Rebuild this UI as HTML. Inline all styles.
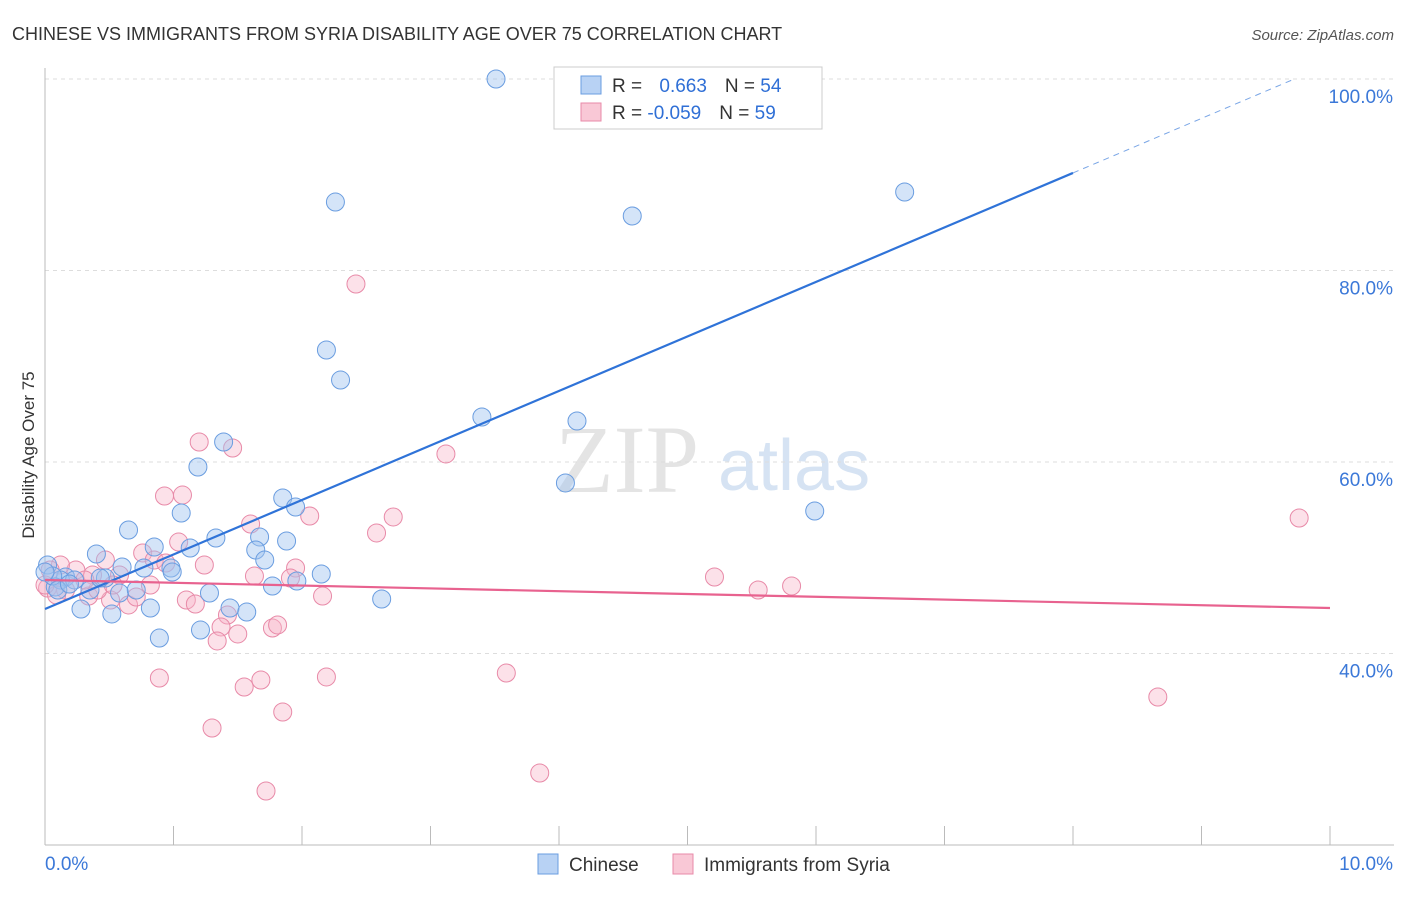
<!DOCTYPE html>
<html><head><meta charset="utf-8"><style>
body{margin:0;background:#fff;font-family:"Liberation Sans",sans-serif}
</style></head><body>
<svg id="chart" width="1406" height="892" xmlns="http://www.w3.org/2000/svg" font-family="Liberation Sans, sans-serif">
<text x="12" y="40" font-size="18" fill="#333">CHINESE VS IMMIGRANTS FROM SYRIA DISABILITY AGE OVER 75 CORRELATION CHART</text>
<text x="1394" y="40" font-size="15" fill="#555" font-style="italic" text-anchor="end">Source: ZipAtlas.com</text>
<text x="555" y="492" font-size="96" fill="#e4e4e4" font-family="Liberation Serif, serif">ZIP</text>
<text x="718" y="490" font-size="72" fill="#d6e3f3">atlas</text>
<g id="grid"></g>
<g id="axes"></g>
<g id="pts"></g>
<g id="lines"></g>
<text transform="translate(34,455) rotate(-90)" font-size="17" fill="#333" text-anchor="middle">Disability Age Over 75</text>
<g>
<rect x="554" y="67" width="268" height="62" fill="#fff" stroke="#ccc"/>
<rect x="581" y="76" width="20" height="18" fill="#b8d2f4" stroke="#6a9de0"/>
<rect x="581" y="103" width="20" height="18" fill="#f9c8d6" stroke="#e88aa8"/>
<text x="612" y="92" font-size="19" fill="#333">R = <tspan fill="#2f6fd6" dx="12">0.663</tspan><tspan fill="#333" dx="18">N = </tspan><tspan fill="#2f6fd6">54</tspan></text>
<text x="612" y="119" font-size="19" fill="#333">R = <tspan fill="#2f6fd6">-0.059</tspan><tspan fill="#333" dx="18">N = </tspan><tspan fill="#2f6fd6">59</tspan></text>
</g>
<g>
<rect x="538" y="854" width="20" height="20" fill="#b8d2f4" stroke="#6a9de0"/>
<text x="569" y="871" font-size="19" fill="#333">Chinese</text>
<rect x="673" y="854" width="20" height="20" fill="#f9c8d6" stroke="#e88aa8"/>
<text x="704" y="871" font-size="19" fill="#333">Immigrants from Syria</text>
</g>
</svg>
<script>
const blueX=[3.51,2.26,4.57,6.69,2.19,2.30,3.40,4.14,1.39,1.19,4.05,5.99,1.85,1.95,1.06,0.65,1.33,1.67,1.88,0.85,1.13,0.40,1.64,1.71,0.98,0.60,0.77,0.47,0.16,0.12,0.23,0.08,0.35,0.58,0.71,1.28,1.96,2.15,1.77,0.82,0.28,0.52,1.44,1.57,0.89,1.21,2.62,0.99,0.02,0.06,0.43,0.10,0.19,0.0];
const blueY=[100,87.15,85.69,88.2,71.7,68.56,64.7,64.28,62.09,59.48,57.81,54.88,56.24,55.3,54.67,52.9,52.06,52.17,51.75,51.12,51.02,50.39,50.81,49.76,48.93,49.03,48.93,47.88,47.99,47.68,47.68,46.95,46.63,46.32,46.63,46.32,47.57,48.3,47.05,44.75,44.65,44.13,44.75,44.33,41.62,42.45,45.69,48.51,49.24,48.09,47.88,46.63,47.26,48.51];
const pinkX=[2.42,1.20,1.46,3.12,0.93,1.07,2.06,2.71,1.60,2.58,0.76,1.04,0.47,0.85,1.24,0.24,0.12,0.04,0.02,0.37,0.58,1.63,1.95,1.91,0.94,5.21,5.55,5.81,9.76,1.10,1.17,0.51,0.65,0.34,2.16,1.42,1.37,1.50,1.77,1.81,1.34,0.89,2.19,3.59,1.55,1.68,1.85,1.30,3.85,1.72,8.66,0.82,0.41,0.16,0.53,0.71,0.31,0.09,0.0];
const pinkY=[78.59,62.09,61.46,60.84,56.45,56.55,54.36,54.26,53.52,52.59,50.5,51.64,49.76,49.76,49.24,48.72,49.24,48.72,46.84,48.2,48.2,48.09,48.93,47.88,49.45,47.99,46.63,47.05,54.15,45.59,45.17,45.59,45.07,46.0,46.0,44.02,42.77,42.04,42.66,42.98,41.31,37.44,37.55,37.96,36.5,37.23,33.89,32.22,27.52,25.64,35.46,47.15,46.63,46.63,47.15,45.9,47.68,46.11,47.15];
const yTicks=[100,80,60,40];
const blueTrend=[44.65,90.19];
const pinkTrend=[47.68,44.75];
const NS="http://www.w3.org/2000/svg";
const sx=v=>45+v*128.5;
const sy=v=>79+(100-v)*9.575;
function mk(t,a,p){const e=document.createElementNS(NS,t);for(const k in a)e.setAttribute(k,a[k]);p.appendChild(e);return e;}
const grid=document.getElementById('grid'),axes=document.getElementById('axes'),pts=document.getElementById('pts'),lines=document.getElementById('lines');
yTicks.forEach(t=>{
 const l=mk('line',{x1:45,x2:1394,y1:sy(t),y2:sy(t),stroke:'#ddd','stroke-dasharray':'4,4'},grid);
 
 
 const tx=mk('text',{x:1393,y:sy(t)+24,'font-size':19,fill:'#3b78d8','text-anchor':'end'},grid);
 tx.textContent=t.toFixed(1)+'%';
 
 
});
const xa=mk('line',{x1:45,x2:1394,y1:845,y2:845,stroke:'#bbb'},axes);


const ya=mk('line',{x1:45,x2:45,y1:68,y2:845,stroke:'#bbb'},axes);


for(let i=1;i<=10;i++){const t=mk('line',{x1:45+i*128.5,x2:45+i*128.5,y1:826,y2:845,stroke:'#bbb'},axes);}
const x0=mk('text',{x:45,y:870,'font-size':19,fill:'#3b78d8'},axes);x0.textContent='0.0%';


const x1=mk('text',{x:1393,y:870,'font-size':19,fill:'#3b78d8','text-anchor':'end'},axes);x1.textContent='10.0%';


pinkX.forEach((v,i)=>{const c=mk('circle',{cx:sx(v),cy:sy(pinkY[i]),r:9,fill:'rgba(248,180,200,0.4)',stroke:'#e88aa8','stroke-width':1},pts);
 
 });
blueX.forEach((v,i)=>{const c=mk('circle',{cx:sx(v),cy:sy(blueY[i]),r:9,fill:'rgba(160,196,240,0.45)',stroke:'#6a9de0','stroke-width':1},pts);
 
 });
const bs=(blueTrend[1]-blueTrend[0])/8;
const bl=mk('line',{x1:sx(0),y1:sy(blueTrend[0]),x2:sx(8),y2:sy(blueTrend[1]),stroke:'#2f73d8','stroke-width':2.2},lines);


const xEnd=(100-blueTrend[0])/bs;
const bd=mk('line',{x1:sx(8),y1:sy(blueTrend[1]),x2:sx(xEnd),y2:sy(100),stroke:'#7aa6e6','stroke-width':1,'stroke-dasharray':'6,5'},lines);


const pl=mk('line',{x1:sx(0),y1:sy(pinkTrend[0]),x2:sx(10),y2:sy(pinkTrend[1]),stroke:'#e8628f','stroke-width':2.2},lines);


</script>
</body></html>
